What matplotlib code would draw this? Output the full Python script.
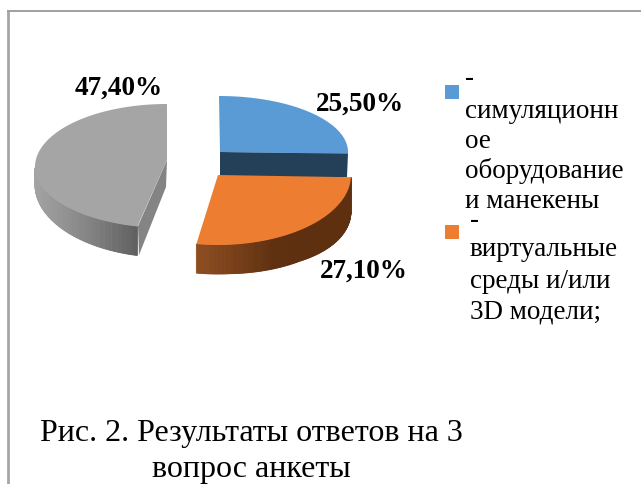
import numpy as np
import matplotlib
matplotlib.use("Agg")
import matplotlib.pyplot as plt
from matplotlib.colors import to_rgb

# Values and text from the picture
values = [25.5, 27.1, 47.4]
value_labels = ["25,50%", "27,10%", "47,40%"]
legend_blue = ["-", "симуляционн", "ое", "оборудование", "и манекены"]
legend_orange = ["-", "виртуальные", "среды и/или", "3D модели;"]
caption = ["Рис. 2. Результаты ответов на 3", "вопрос анкеты"]

plt.rcParams['font.family'] = ['Liberation Serif', 'DejaVu Serif']

# slice angles, clockwise from 12 o'clock
edges = 90 - np.cumsum([0] + values) * 3.6


def outline(cx, cy, rx, ry_top, ry_bot, a0, a1):
    # rim of a slice, the front half of the pie is drawn a bit taller
    a = np.radians(np.linspace(a0, a1, 200))
    s = np.sin(a)
    ry = np.where(s > 0, ry_top, ry_bot)
    return cx + rx * np.cos(a), cy - ry * s


def wall(ax, x, y, depth, col_a, col_b, col_c, z):
    # side of the slice as thin strips so it shades across
    ca, cb, cc = np.array(to_rgb(col_a)), np.array(to_rgb(col_b)), np.array(to_rgb(col_c))
    left, right = x.min(), x.max()
    for i in range(len(x) - 1):
        t = ((x[i] + x[i + 1]) / 2 - left) / (right - left)
        if t < 0.5:
            c = ca + (cb - ca) * t * 2
        else:
            c = cb + (cc - cb) * (t - 0.5) * 2
        ax.fill([x[i], x[i + 1], x[i + 1], x[i]],
                [y[i], y[i + 1], y[i + 1] + depth[i + 1], y[i] + depth[i]],
                color=c, lw=0.6, zorder=z)


fig = plt.figure(figsize=(6.41, 4.84), dpi=100)
ax = fig.add_axes([0, 0, 1, 1])
ax.set_xlim(0, 641)
ax.set_ylim(484, 0)
ax.axis('off')

# frame, only the top and left show
ax.plot([8, 8], [11, 484], color='#a6a6a6', lw=2.0, zorder=1)
ax.plot([8, 641], [10.5, 10.5], color='#a0a0a0', lw=1.4, zorder=1)

# blue slice
bx, by = outline(219, 152, 129, 56, 56, edges[0], edges[1])
ax.fill([220, 348, 347, 220], [152, 153, 177, 177], color='#243f58', lw=0, zorder=2)
ax.fill(np.r_[220, bx], np.r_[152, by], color='#5b9bd5', lw=0, zorder=3)

# orange slice
ox, oy = outline(218, 175, 133, 57, 70, edges[1], edges[2])
od = np.interp(ox, [196, 230, 300, 351], [29, 29, 31, 36])
keep = oy > 176
wall(ax, ox[keep], oy[keep], od[keep], '#8f4d20', '#5f3010', '#5f3010', 4)
ax.fill(np.r_[218, ox], np.r_[175, oy], color='#ed7d31', lw=0, zorder=5)

# grey slice, its cut edge sits a few degrees off in the perspective
gx, gy = outline(167, 167, 132, 63, 61, edges[2] + 360 - 3.6, 90)
gd = np.interp(gy, [104, 168, 226], [0, 18, 29])
keep = gy > 167
wall(ax, gx[keep], gy[keep], gd[keep], '#a3a3a3', '#858585', '#5f5f5f', 2)
ax.fill([167, 138, 139, 166], [160, 226, 255, 187], color='#848484', lw=0, zorder=2)
ax.fill(np.r_[167, gx], np.r_[160, gy], color='#a5a5a5', lw=0, zorder=3)

# value labels
ax.text(360, 104, value_labels[0], fontsize=19.6, fontweight='bold', ha='center', va='center', zorder=6)
ax.text(363.5, 271, value_labels[1], fontsize=19.6, fontweight='bold', ha='center', va='center', zorder=6)
ax.text(119, 88, value_labels[2], fontsize=19.6, fontweight='bold', ha='center', va='center', zorder=6)

# legend
ax.fill([445, 459, 459, 445], [85, 85, 99, 99], color='#5b9bd5', lw=0)
ax.fill([445, 459, 459, 445], [225, 225, 239, 239], color='#ed7d31', lw=0)
for txt, y in zip(legend_blue, [79, 111, 141, 171, 201]):
    ax.text(465, y, txt, fontsize=19.5, ha='left', va='center')
for txt, y in zip(legend_orange, [221, 250, 281, 312]):
    ax.text(470, y, txt, fontsize=19.5, ha='left', va='center')

# caption
ax.text(251, 433, caption[0], fontsize=23, ha='center', va='center')
ax.text(251, 469, caption[1], fontsize=23, ha='center', va='center')

fig.savefig('out.png', dpi=100)
